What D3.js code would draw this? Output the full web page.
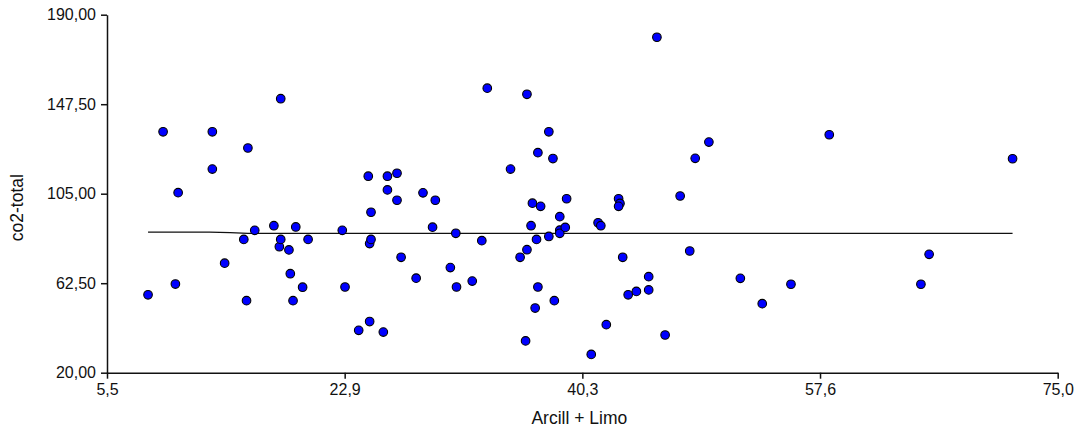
<!DOCTYPE html>
<html>
<head>
<meta charset="utf-8">
<script src="https://d3js.org/d3.v7.min.js"></script>
<style>
  body { margin: 0; background: #fff; }
  svg { display: block; font-family: "Liberation Sans", Arial, sans-serif; }
</style>
</head>
<body>
<svg id="drawing_region"></svg>
<script>
// Arcill + Limo (x) vs co2-total (y)
const arcillLimo = [
  8.5, 9.6, 10.5, 10.7, 13.2, 13.2, 14.1, 15.5, 15.7, 15.8,
  16.3, 17.7, 18.1, 18.2, 18.2, 18.8, 18.9, 19.1, 19.3, 19.8,
  20.2, 22.7, 22.9, 23.9, 24.6, 24.7, 24.7, 24.8, 24.8, 25.7,
  26.0, 26.0, 26.7, 26.7, 27.0, 28.1, 28.6, 29.3, 29.5, 30.6,
  31.0, 31.05, 32.2, 32.9, 33.3, 35.0, 35.7, 36.1, 36.2, 36.2,
  36.5, 36.6, 36.8, 36.9, 37.0, 37.0, 37.2, 37.8, 37.8, 38.1,
  38.2, 38.6, 38.6, 38.6, 39.0, 39.1, 40.9, 41.4, 41.6, 42.0,
  42.9, 43.0, 42.9, 43.2, 43.6, 44.2, 45.1, 45.1, 45.7, 46.3,
  47.4, 48.1, 48.5, 49.5, 51.8, 53.4, 55.5, 58.3, 65.0, 65.6,
  71.7
];
const co2Total = [
  57.0, 134.4, 62.1, 105.5, 134.4, 116.7, 72.0, 83.3, 54.2, 126.7,
  87.6, 89.8, 79.8, 150.1, 83.3, 78.3, 67.0, 54.2, 89.2, 60.6,
  83.3, 87.6, 60.7, 40.1, 113.3, 81.3, 44.3, 96.2, 83.3, 39.3,
  113.3, 106.8, 114.7, 101.9, 74.8, 64.9, 105.4, 89.1, 101.9, 69.9,
  86.2, 60.7, 63.5, 82.7, 155.1, 116.7, 74.8, 35.1, 152.2, 78.4,
  89.8, 100.5, 50.7, 83.3, 124.5, 60.7, 99.0, 134.4, 84.7, 121.7,
  54.2, 94.1, 87.7, 86.2, 89.0, 102.6, 28.7, 91.2, 89.8, 42.8,
  102.6, 100.4, 99.0, 74.8, 57.0, 58.6, 65.6, 59.3, 179.3, 37.9,
  103.9, 77.8, 121.8, 129.5, 64.8, 52.8, 62.0, 133.0, 62.0, 76.2,
  121.6
];

// fit line
const fitX = [8.5, 13.0, 14.5, 15.8, 71.7];
const fitY = [86.8, 86.8, 86.5, 86.2, 86.2];

const xTicks = [5.5, 22.875, 40.25, 57.625, 75.0];
const xTickLabels = ["5,5", "22,9", "40,3", "57,6", "75,0"];
const yTicks = [20, 62.5, 105, 147.5, 190];
const yTickLabels = ["20,00", "62,50", "105,00", "147,50", "190,00"];

const data = arcillLimo.map((x, i) => ({ x: x, y: co2Total[i] }));
const fit = fitX.map((x, i) => ({ x: x, y: fitY[i] }));

class ScatterPlot {
  constructor(config, data, fit) {
    this.config = config;
    this.data = data;
    this.fit = fit;
    this.init();
  }

  init() {
    let self = this;

    self.svg = d3
      .select(self.config.parent)
      .attr("width", self.config.width)
      .attr("height", self.config.height);

    self.chart = self.svg
      .append("g")
      .attr(
        "transform",
        `translate(${self.config.margin.left}, ${self.config.margin.top})`
      );

    self.inner_width =
      self.config.width - self.config.margin.left - self.config.margin.right;
    self.inner_height =
      self.config.height - self.config.margin.top - self.config.margin.bottom;

    self.xscale = d3.scaleLinear().domain([5.5, 75.0]).range([0, self.inner_width]);
    self.yscale = d3.scaleLinear().domain([20, 190]).range([self.inner_height, 0]);

    self.xaxis = d3
      .axisBottom(self.xscale)
      .tickValues(xTicks)
      .tickFormat((d, i) => xTickLabels[i])
      .tickSizeInner(6)
      .tickSizeOuter(0)
      .tickPadding(5);
    self.yaxis = d3
      .axisLeft(self.yscale)
      .tickValues(yTicks)
      .tickFormat((d, i) => yTickLabels[i])
      .tickSizeInner(6)
      .tickSizeOuter(0)
      .tickPadding(5);
  }

  render() {
    let self = this;

    const line = d3
      .line()
      .x((d) => self.xscale(d.x))
      .y((d) => self.yscale(d.y));

    self.chart
      .append("path")
      .datum(self.fit)
      .attr("fill", "none")
      .attr("stroke", "#111")
      .attr("stroke-width", 1.2)
      .attr("d", line);

    self.chart
      .append("g")
      .selectAll("circle")
      .data(self.data)
      .join("circle")
      .attr("cx", (d) => self.xscale(d.x))
      .attr("cy", (d) => self.yscale(d.y))
      .attr("r", 4.3)
      .attr("fill", "#0000ff")
      .attr("stroke", "#000")
      .attr("stroke-width", 1.1);

    const xg = self.chart
      .append("g")
      .attr("transform", `translate(0, ${self.inner_height})`)
      .call(self.xaxis);

    const yg = self.chart.append("g").call(self.yaxis);

    [xg, yg].forEach((g) => {
      g.select(".domain").attr("stroke", "#111").attr("stroke-width", 1.5);
      g.selectAll(".tick line").attr("stroke", "#111").attr("stroke-width", 1.5);
      g.selectAll(".tick text")
        .attr("fill", "#111")
        .attr("font-size", "16px")
        .attr("font-family", "Liberation Sans, Arial, sans-serif");
    });

    self.chart
      .append("text")
      .attr("x", self.inner_width / 2 - 3)
      .attr("y", self.inner_height + 51)
      .attr("text-anchor", "middle")
      .attr("font-size", "17.5px")
      .attr("fill", "#111")
      .text("Arcill + Limo");

    self.chart
      .append("text")
      .attr("transform", "rotate(-90)")
      .attr("x", -(self.inner_height / 2 + 14))
      .attr("y", -84)
      .attr("text-anchor", "middle")
      .attr("font-size", "17.5px")
      .attr("fill", "#111")
      .text("co2-total");
  }
}

const config = {
  parent: "#drawing_region",
  width: 1082,
  height: 428,
  margin: { top: 14.7, right: 24.3, bottom: 55.3, left: 107 },
};

const scatterPlot = new ScatterPlot(config, data, fit);
scatterPlot.render();
</script>
</body>
</html>
